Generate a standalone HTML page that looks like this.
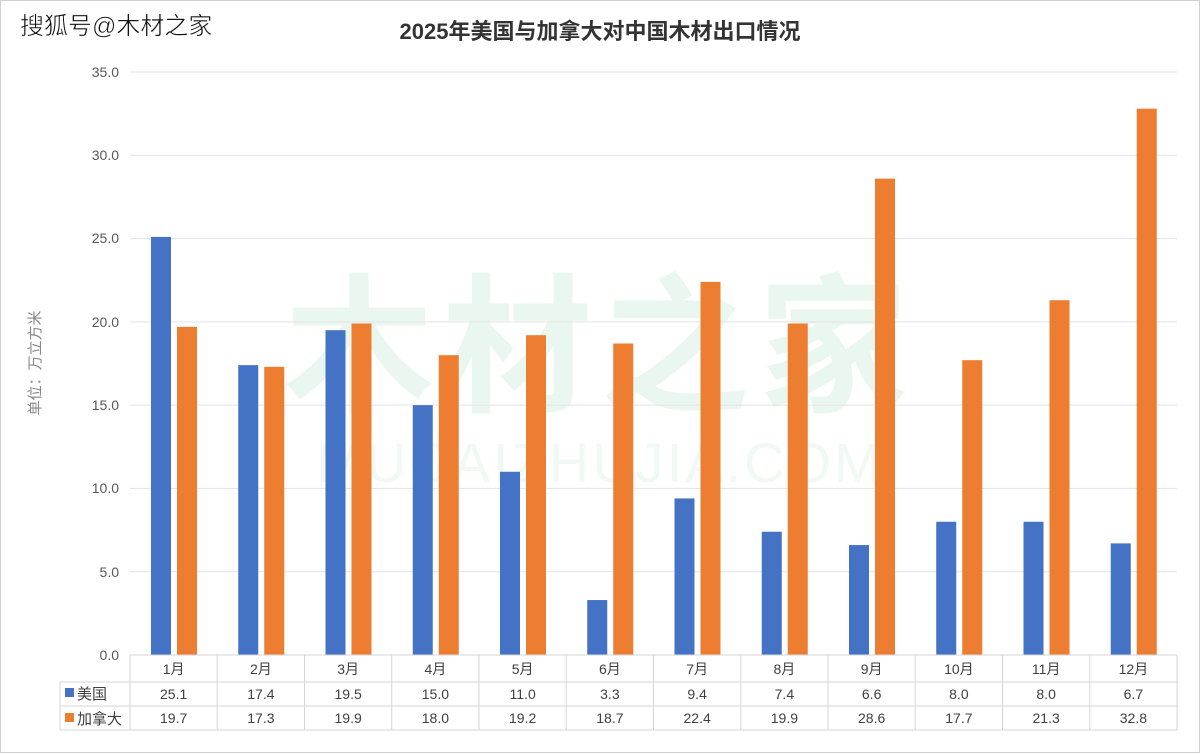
<!DOCTYPE html><html><head><meta charset="utf-8"><style>body{margin:0;background:#fff}svg{display:block}text{font-family:"Liberation Sans","Noto Sans CJK SC",sans-serif}</style></head><body>
<svg width="1200" height="754" xmlns="http://www.w3.org/2000/svg">
<rect x="0.5" y="0.5" width="1199" height="752" fill="#fff" stroke="#d0d0d0"/>
<text x="20" y="34" font-size="24" fill="#111" stroke="#fff" stroke-width="0.5">搜狐号@木材之家</text>
<text x="600" y="39" font-size="22" font-weight="bold" fill="#333" text-anchor="middle">2025年美国与加拿大对中国木材出口情况</text>
<text x="600" y="400" font-size="150" font-weight="bold" fill="#eaf7f0" text-anchor="middle" letter-spacing="8">木材之家</text>
<text x="600" y="482" font-size="56" fill="#f0f9f4" text-anchor="middle" letter-spacing="3">MUCAIZHUJIA.COM</text>
<g stroke="#e3e3e3" stroke-width="1">
<line x1="130" x2="1177" y1="72" y2="72"/><line x1="130" x2="1177" y1="155.3" y2="155.3"/><line x1="130" x2="1177" y1="238.6" y2="238.6"/><line x1="130" x2="1177" y1="321.9" y2="321.9"/><line x1="130" x2="1177" y1="405.1" y2="405.1"/><line x1="130" x2="1177" y1="488.4" y2="488.4"/><line x1="130" x2="1177" y1="571.7" y2="571.7"/>
</g>
<g font-size="14" fill="#595959" text-anchor="end">
<text x="119" y="77">35.0</text><text x="119" y="160">30.0</text><text x="119" y="243">25.0</text><text x="119" y="327">20.0</text><text x="119" y="410">15.0</text><text x="119" y="493">10.0</text><text x="119" y="577">5.0</text><text x="119" y="660">0.0</text>
</g>
<text transform="translate(40,363) rotate(-90)" font-size="15" fill="#888" text-anchor="middle" font-family="Liberation Serif,Noto Serif CJK SC,serif">单位：万立方米</text>
<g id="bars"></g>
<g stroke="#d6d6d6" stroke-width="1" fill="none">
<line x1="130" x2="1177" y1="655" y2="655"/>
<line x1="60" x2="1177" y1="682" y2="682"/>
<line x1="60" x2="1177" y1="706" y2="706"/>
<line x1="60" x2="1177" y1="730" y2="730"/>
<line x1="60" x2="60" y1="682" y2="730"/>
</g>
<g id="tbl"></g>
<g font-size="15" fill="#404040">
<rect x="65" y="688" width="9" height="9" fill="#4472c4"/><text x="77" y="699">美国</text>
<rect x="65" y="713" width="9" height="9" fill="#ed7d31"/><text x="77" y="724">加拿大</text>
</g>
<script>
var us=[25.1,17.4,19.5,15.0,11.0,3.3,9.4,7.4,6.6,8.0,8.0,6.7],ca=[19.7,17.3,19.9,18.0,19.2,18.7,22.4,19.9,28.6,17.7,21.3,32.8];
var ns="http://www.w3.org/2000/svg",b=document.getElementById("bars"),t=document.getElementById("tbl"),w=87.25,k=583/35;
function el(p,n,a,tx){var e=document.createElementNS(ns,n);for(var i in a)e.setAttribute(i,a[i]);if(tx)e.textContent=tx;p.appendChild(e);}
for(var i=0;i<12;i++){var x0=130+i*w,c=x0+w/2;
el(b,"rect",{x:x0+21,y:655-us[i]*k,width:20,height:us[i]*k,fill:"#4472c4"});
el(b,"rect",{x:x0+47,y:655-ca[i]*k,width:20,height:ca[i]*k,fill:"#ed7d31"});
el(t,"line",{x1:x0,x2:x0,y1:655,y2:730,stroke:"#d6d6d6"});
el(t,"text",{x:c,y:674,"font-size":14,fill:"#404040","text-anchor":"middle"},(i+1)+"月");
el(t,"text",{x:c,y:699,"font-size":14,fill:"#404040","text-anchor":"middle"},us[i].toFixed(1));
el(t,"text",{x:c,y:723,"font-size":14,fill:"#404040","text-anchor":"middle"},ca[i].toFixed(1));}
el(t,"line",{x1:1177,x2:1177,y1:655,y2:730,stroke:"#d6d6d6"});
</script>
</svg></body></html>
